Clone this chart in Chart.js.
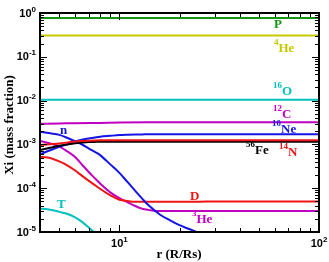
<!DOCTYPE html>
<html>
<head>
<meta charset="utf-8">
<script src="https://cdn.jsdelivr.net/npm/chart.js@4.4.1/dist/chart.umd.min.js"></script>
<style>
  html, body { margin: 0; padding: 0; background: #fff; }
  #wrap { width: 329px; height: 262px; }
</style>
</head>
<body>
<div id="wrap"><canvas id="chart" width="329" height="262"></canvas></div>
<script>
const radius = [4, 4.5, 5, 5.5, 6, 6.5, 7, 7.5, 8, 9, 10, 11, 12, 13, 14, 16, 18, 20, 22, 25, 30, 40, 60, 100];
const rFlat = [4, 100];
const rCarbon = [4, 5, 6, 8, 10, 14, 20, 100];

// mass fractions
const xProton = [0.77, 0.77];
const xHe4 = [0.305, 0.305];
const xO16 = [0.0104, 0.0104];
const xC12 = [2.95e-3, 3.0e-3, 3.05e-3, 3.1e-3, 3.15e-3, 3.2e-3, 3.22e-3, 3.22e-3];
const xNe = [5.93e-4, 7.33e-4, 8.77e-4, 1.01e-3, 1.16e-3, 1.28e-3, 1.36e-3, 1.43e-3, 1.5e-3, 1.57e-3, 1.63e-3, 1.66e-3,
             1.68e-3, 1.69e-3, 1.7e-3, 1.71e-3, 1.71e-3, 1.71e-3, 1.71e-3, 1.71e-3, 1.71e-3, 1.71e-3, 1.71e-3, 1.71e-3];
const xFe = [7.45e-4, 8.36e-4, 9.3e-4, 1.0e-3, 1.06e-3, 1.1e-3, 1.13e-3, 1.14e-3, 1.15e-3, 1.15e-3, 1.15e-3, 1.15e-3,
             1.15e-3, 1.15e-3, 1.15e-3, 1.15e-3, 1.15e-3, 1.15e-3, 1.15e-3, 1.15e-3, 1.15e-3, 1.15e-3, 1.15e-3, 1.15e-3];
const xN14 = [9.7e-4, 1.01e-3, 1.05e-3, 1.11e-3, 1.16e-3, 1.19e-3, 1.21e-3, 1.23e-3, 1.24e-3, 1.24e-3, 1.24e-3, 1.24e-3,
              1.24e-3, 1.24e-3, 1.24e-3, 1.24e-3, 1.24e-3, 1.24e-3, 1.24e-3, 1.24e-3, 1.24e-3, 1.24e-3, 1.24e-3, 1.24e-3];
const xNeutron = [1.95e-3, 1.79e-3, 1.65e-3, 1.40e-3, 1.18e-3, 9.95e-4, 8.15e-4, 6.8e-4, 5.7e-4, 3.5e-4, 2.24e-4, 1.37e-4,
                  8.7e-5, 5.8e-5, 4.06e-5, 2.48e-5, 1.83e-5, 1.43e-5, 1.2e-5, 9.6e-6, 7e-6, null, null, null];
const xD = [5.23e-4, 4.9e-4, 4.08e-4, 3.29e-4, 2.53e-4, 1.91e-4, 1.49e-4, 1.19e-4, 9.7e-5, 6.9e-5, 5.43e-5, 5.1e-5,
            4.93e-5, 4.93e-5, 4.93e-5, 4.93e-5, 4.93e-5, 4.93e-5, 4.93e-5, 4.93e-5, 4.95e-5, 4.95e-5, 4.97e-5, 5.0e-5];
const xHe3 = [1.2e-3, 1.05e-3, 8.9e-4, 6.87e-4, 5.15e-4, 3.43e-4, 2.37e-4, 1.72e-4, 1.28e-4, 8.05e-5, 5.93e-5, 4.78e-5,
              3.92e-5, 3.4e-5, 3.2e-5, 3.0e-5, 3.0e-5, 3.0e-5, 3.0e-5, 3.0e-5, 3.0e-5, 3.0e-5, 3.0e-5, 3.0e-5];
const xT = [3.45e-5, 3.22e-5, 2.88e-5, 2.58e-5, 2.16e-5, 1.7e-5, 1.28e-5, 9.6e-6, 7.5e-6, null, null, null,
            null, null, null, null, null, null, null, null, null, null, null, null];

// tick labels (powers of ten)
const yTickExp = [0, -1, -2, -3, -4, -5];
const xTickExp = [1, 2];

const GREEN = '#139613', YELLOW = '#c8c800', CYAN = '#00c0c0', MAGENTA = '#c000c0',
      BLUE = '#1414e6', RED = '#f01414', BLACK = '#000000';

function series(rs, vals, color) {
    return {
        data: rs.map((r, i) => ({ x: r, y: vals[i] })),
        borderColor: color,
        borderWidth: 2,
        showLine: true,
        pointRadius: 0,
        fill: false,
        cubicInterpolationMode: 'monotone'
    };
}

const datasets = [
    series(radius, xN14, RED),
    series(radius, xFe, BLACK),
    series(rFlat, xProton, GREEN),
    series(rFlat, xHe4, YELLOW),
    series(rFlat, xO16, CYAN),
    series(rCarbon, xC12, MAGENTA),
    series(radius, xNe, BLUE),
    series(radius, xNeutron, BLUE),
    series(radius, xD, RED),
    series(radius, xHe3, MAGENTA),
    series(radius, xT, CYAN)
];

// species labels: [superscript, name, colour, left x, baseline y]
const speciesLabels = [
    ['', 'P', GREEN, 274, 28],
    ['4', 'He', YELLOW, 274, 52],
    ['16', 'O', CYAN, 273, 95],
    ['12', 'C', MAGENTA, 273, 118],
    ['10', 'Ne', BLUE, 272, 133],
    ['56', 'Fe', BLACK, 246, 154],
    ['14', 'N', RED, 279, 156],
    ['', 'D', RED, 190, 200],
    ['3', 'He', MAGENTA, 192, 223],
    ['', 'n', BLUE, 60, 134],
    ['', 'T', CYAN, 57, 208]
];

function powerLabel(ctx, exp, x, y, align) {
    ctx.font = 'bold 11px "Liberation Sans", Arial, sans-serif';
    const base = '10';
    const wb = ctx.measureText(base).width;
    ctx.font = 'bold 8px "Liberation Sans", Arial, sans-serif';
    const sup = String(exp);
    const ws = ctx.measureText(sup).width;
    let left = align === 'right' ? x - wb - ws : x - (wb + ws) / 2;
    ctx.textAlign = 'left';
    ctx.textBaseline = 'alphabetic';
    ctx.font = 'bold 11px "Liberation Sans", Arial, sans-serif';
    ctx.fillText(base, left, y);
    ctx.font = 'bold 8px "Liberation Sans", Arial, sans-serif';
    ctx.fillText(sup, left + wb, y - 5);
}

const frameAndText = {
    id: 'frameAndText',
    afterDatasetsDraw(chart) {
        const { ctx, chartArea: a, scales: { x, y } } = chart;
        ctx.save();
        ctx.strokeStyle = '#000';
        ctx.lineWidth = 1;

        // y ticks, mirrored on both sides
        for (let e = -5; e <= 0; e++) {
            for (let m = 1; m <= 9; m++) {
                const v = m * Math.pow(10, e);
                if (v > 1 || v < 1e-5) continue;
                const py = Math.round(y.getPixelForValue(v)) + 0.5;
                const len = m === 1 ? 7 : 4;
                ctx.beginPath();
                ctx.moveTo(a.left, py); ctx.lineTo(a.left + len, py);
                ctx.moveTo(a.right, py); ctx.lineTo(a.right - len, py);
                ctx.stroke();
            }
        }
        // x ticks, mirrored top and bottom
        for (let e = 0; e <= 2; e++) {
            for (let m = 1; m <= 9; m++) {
                const v = m * Math.pow(10, e);
                if (v < 4 || v > 100) continue;
                const px = Math.round(x.getPixelForValue(v)) + 0.5;
                const len = m === 1 ? 7 : 4;
                ctx.beginPath();
                ctx.moveTo(px, a.bottom); ctx.lineTo(px, a.bottom - len);
                ctx.moveTo(px, a.top); ctx.lineTo(px, a.top + len);
                ctx.stroke();
            }
        }

        // frame
        ctx.lineWidth = 2;
        ctx.strokeRect(a.left, a.top, a.right - a.left, a.bottom - a.top);

        // tick labels
        ctx.fillStyle = '#000';
        yTickExp.forEach(e => {
            const py = y.getPixelForValue(Math.pow(10, e));
            powerLabel(ctx, e, 36, py + 3.5, 'right');
        });
        xTickExp.forEach(e => {
            const px = x.getPixelForValue(Math.pow(10, e));
            powerLabel(ctx, e, px, 247, 'center');
        });

        // axis titles
        ctx.font = 'bold 13px "Liberation Serif", "Times New Roman", serif';
        ctx.textAlign = 'center';
        ctx.textBaseline = 'middle';
        ctx.fillText('r (R/Rs)', 179, 255);
        ctx.save();
        ctx.translate(10, 125);
        ctx.rotate(-Math.PI / 2);
        ctx.fillText('Xi (mass fraction)', 0, 0);
        ctx.restore();

        // species labels
        ctx.textAlign = 'left';
        ctx.textBaseline = 'alphabetic';
        speciesLabels.forEach(([sup, name, color, lx, by]) => {
            ctx.fillStyle = color;
            let cx = lx;
            if (sup) {
                ctx.font = 'bold 9px "Liberation Serif", "Times New Roman", serif';
                ctx.fillText(sup, cx, by - 7);
                cx += ctx.measureText(sup).width;
            }
            ctx.font = 'bold 13px "Liberation Serif", "Times New Roman", serif';
            ctx.fillText(name, cx, by);
        });
        ctx.restore();
    }
};

new Chart(document.getElementById('chart'), {
    type: 'scatter',
    data: { datasets },
    options: {
        responsive: false,
        animation: false,
        devicePixelRatio: 1,
        layout: { padding: { left: 40, top: 13, right: 10, bottom: 30 } },
        plugins: { legend: { display: false }, tooltip: { enabled: false } },
        scales: {
            x: { type: 'logarithmic', min: 4, max: 100, display: false },
            y: { type: 'logarithmic', min: 1e-5, max: 1, display: false }
        }
    },
    plugins: [frameAndText]
});
</script>
</body>
</html>
